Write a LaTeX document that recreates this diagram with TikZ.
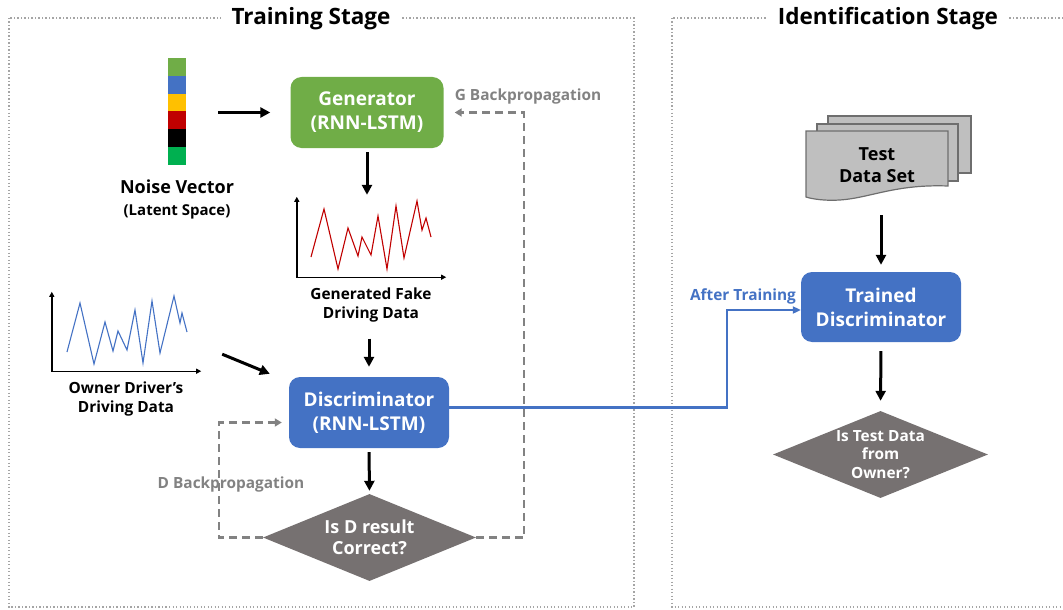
\documentclass[tikz,border=0pt]{standalone}
\usepackage{fontspec}
\setmainfont{Open Sans}
\usetikzlibrary{arrows.meta,shapes.geometric,positioning}

\definecolor{gengreen}{RGB}{112,173,71}
\definecolor{discblue}{RGB}{68,114,196}
\definecolor{diagray}{RGB}{118,113,113}
\definecolor{bpgray}{RGB}{130,130,130}
\definecolor{stagegray}{RGB}{165,165,165}
\definecolor{docfill}{RGB}{191,191,191}
\definecolor{docline}{RGB}{110,110,110}
\definecolor{nvgold}{RGB}{255,192,0}
\definecolor{nvred}{RGB}{192,0,0}
\definecolor{nvlime}{RGB}{0,176,80}

\tikzset{
        stage/.style={draw=stagegray, line width=1.7pt, dash pattern=on 1.4pt off 2.1pt},
        stagetitle/.style={fill=white, inner xsep=11pt, font=\bfseries\fontsize{22.5}{27}\selectfont},
        net/.style={rectangle, rounded corners=11pt, text=white, align=center, inner sep=0pt,
                font=\bfseries\fontsize{19}{24}\selectfont},
        decide/.style={diamond, fill=diagray, text=white, align=center, inner sep=0pt},
        lbl/.style={align=center, font=\bfseries\fontsize{15.4}{19}\selectfont},
        flow/.style={-{Triangle[length=10pt,width=10pt]}, line width=3pt},
        backprop/.style={draw=bpgray, line width=2.3pt, dash pattern=on 8pt off 5pt,
                -{Triangle[length=7pt,width=8pt]}},
        axes/.style={{Triangle[length=5pt,width=5pt]}-{Triangle[length=5pt,width=5pt]}, line width=1.4pt},
}

\begin{document}
\begin{tikzpicture}[x=1pt, y=-1pt]
        \useasboundingbox (0, 0) rectangle (1063, 610);
        \clip (0, 0) rectangle (1063, 610);

        \draw[stage] (9, 18) rectangle (634, 607);
        \draw[stage] (672, 18) rectangle (1080, 607);
        \node[stagetitle] (traintitle) at (311, 19) {Training Stage};
        \node[stagetitle] (idtitle) at (888, 19) {Identification Stage};

        \node[inner sep=0pt, minimum width=18pt, minimum height=107pt] (noise) at (177, 111.5) {};
        \foreach \c [count=\i] in {gengreen, discblue, nvgold, nvred, black, nvlime}
                \fill[\c] (168, 58 + 17.83*\i - 17.83) rectangle ++(18, 17.83);
        \node[align=center, font=\bfseries\fontsize{18}{22}\selectfont] (noiselbl) at (177, 199)
                {Noise Vector\\{\fontsize{15}{18}\selectfont(Latent Space)}};

        \node[net, fill=gengreen, minimum width=153pt, minimum height=71pt] (gen) at (367, 112.5)
                {Generator\\(RNN-LSTM)};
        \node[net, fill=discblue, minimum width=160pt, minimum height=71pt] (disc) at (369, 412.5)
                {Discriminator\\(RNN-LSTM)};
        \node[decide, aspect=2.45, minimum width=213pt, minimum height=87pt,
                font=\bfseries\fontsize{18}{21}\selectfont] (dres) at (369.5, 537.5) {Is D result\\Correct?};

        \node[inner sep=0pt, minimum width=149pt, minimum height=80pt] (fake) at (371.5, 237) {};
        \draw[axes] (fake.north west) |- (fake.south east);
        \draw[nvred, line width=1.1pt] plot coordinates {(311,257) (324,209) (338,269) (348,228) (358,256)
                (362,237) (371,255) (378,216) (387,269) (396,206) (404,258) (417,201) (422,230) (426,218) (431,237)};
        \node[lbl] (fakelbl) at (371, 305) {Generated Fake\\Driving Data};

        \node[inner sep=0pt, minimum width=149pt, minimum height=79pt] (owner) at (126.5, 331.5) {};
        \draw[axes] (owner.north west) |- (owner.south east);
        \draw[discblue, line width=1.1pt] plot coordinates {(67,352) (80,303) (94,364) (105,322) (113,351)
                (118,331) (127,350) (135,310) (143,363) (152,301) (160,353) (174,296) (180,323) (182,313) (187,332)};
        \node[lbl] (ownerlbl) at (126, 399) {Owner Driver’s\\Driving Data};

        \draw[flow, shorten <=32pt, shorten >=20pt] (noise.east |- gen.west) -- (gen.west);
        \draw[flow, shorten <=4pt, shorten >=2pt] (gen.south) -- (gen.south |- fake.north);
        \draw[flow, shorten <=13pt, shorten >=10pt] (disc.north |- fakelbl.south) -- (disc.north);
        \draw[flow] ([shift={(21,-17)}]owner.south east) -- ([shift={(-19,-3)}]disc.north west);
        \draw[flow, shorten <=4pt, shorten >=3pt] (disc.south) -- (dres.north);

        \draw[backprop] (dres.west) -- ++(-44, 0) |- ([shift={(-7, 10)}]disc.west);
        \draw[backprop] (dres.east) -- ++(48, 0) |- ([xshift=11pt]gen.east);
        \node[lbl, text=bpgray] (dbp) at (231, 484) {D Backpropagation};
        \node[lbl, text=bpgray] (gbp) at (528, 96) {G Backpropagation};

        \fill[docfill, draw=docline, line width=1.2pt] (828, 116) rectangle (971, 173);
        \fill[docfill, draw=docline, line width=1.2pt] (817, 124) rectangle (958, 181);
        \fill[docfill, draw=docline, line width=1.2pt] (806, 131) -- (948, 131) -- (948, 186)
                .. controls (895, 184) and (870, 198) .. (840, 200)
                .. controls (825, 201) and (812, 199) .. (806, 197) -- cycle;
        \node[align=center, inner sep=0pt, minimum width=142pt, minimum height=69pt,
                font=\bfseries\fontsize{18}{22}\selectfont] (testdata) at (877, 165.5) {Test\\Data Set};

        \node[net, fill=discblue, minimum width=160pt, minimum height=70pt] (trained) at (881, 307)
                {Trained\\Discriminator};
        \node[decide, aspect=2.47, minimum width=215pt, minimum height=87pt,
                font=\bfseries\fontsize{15.4}{18.5}\selectfont] (idres) at (880.5, 454.5) {Is Test Data\\from\\Owner?};

        \draw[flow, shorten <=15pt, shorten >=7pt] (trained.north |- testdata.south) -- (trained.north);
        \draw[flow, shorten <=9pt, shorten >=10pt] (trained.south) -- (idres.north);

        \draw[discblue, line width=2.3pt, -{Triangle[length=8pt,width=7pt]}]
                ([yshift=5pt]disc.east) -- ++(278, 0) |- ([yshift=-3pt]trained.west);
        \node[lbl, text=discblue] (aftertrain) at (743, 296) {After Training};
\end{tikzpicture}
\end{document}
